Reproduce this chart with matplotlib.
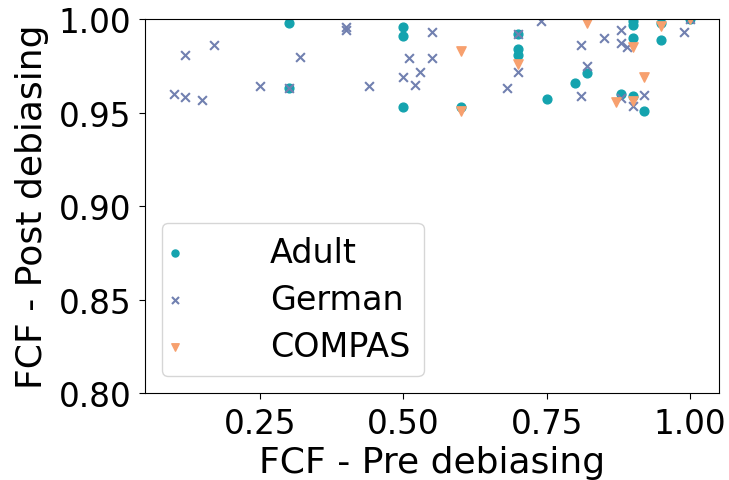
import matplotlib.pyplot as plt
import numpy as np

# FCF before / after debiasing, one pair per run
adult_pre = [0.30, 0.30, 0.50, 0.50, 0.50, 0.60, 0.70, 0.70, 0.70, 0.75, 0.80, 0.82,
             0.88, 0.90, 0.90, 0.90, 0.90, 0.92, 0.95, 0.95, 1.00]
adult_post = [0.998, 0.963, 0.996, 0.991, 0.953, 0.953, 0.992, 0.984, 0.981, 0.9575, 0.966, 0.971,
              0.960, 0.999, 0.997, 0.990, 0.959, 0.951, 0.998, 0.989, 1.000]

german_pre = [0.10, 0.12, 0.12, 0.15, 0.17, 0.25, 0.30, 0.32, 0.40, 0.40, 0.44, 0.50,
              0.51, 0.52, 0.53, 0.55, 0.55, 0.68, 0.70, 0.70, 0.74, 0.81, 0.81, 0.82,
              0.85, 0.88, 0.88, 0.89, 0.88, 0.90, 0.92, 0.99, 1.00]
german_post = [0.960, 0.981, 0.9586, 0.957, 0.986, 0.964, 0.963, 0.980, 0.996, 0.994, 0.964, 0.969,
               0.979, 0.9646, 0.972, 0.993, 0.979, 0.963, 0.992, 0.972, 0.999, 0.986, 0.959, 0.975,
               0.990, 0.994, 0.987, 0.985, 0.958, 0.9536, 0.9595, 0.993, 1.000]

compas_pre = [0.60, 0.60, 0.70, 0.82, 0.87, 0.90, 0.90, 0.92, 0.95, 1.00]
compas_post = [0.983, 0.951, 0.976, 0.998, 0.9557, 0.985, 0.956, 0.969, 0.9965, 1.000]

plt.rcParams['font.family'] = 'DejaVu Sans'
fig = plt.figure(figsize=(7.29, 4.81), dpi=100)
ax = fig.add_axes([0.199, 0.181, 0.787, 0.777])

ax.scatter(adult_pre, adult_post, s=40, marker='o', color='#14a3ae', label='Adult')
ax.scatter(german_pre, german_post, s=40, marker='x', color='#7180b0', label='German')
ax.scatter(compas_pre, compas_post, s=45, marker='v', color='#f7a06e', label='COMPAS')

ax.set_xlim(0.05, 1.05)
ax.set_ylim(0.80, 1.00)
ax.set_xticks([0.25, 0.50, 0.75, 1.00])
ax.set_yticks([0.80, 0.85, 0.90, 0.95, 1.00])
ax.tick_params(labelsize=23.5, length=4.5, pad=5.5)
ax.set_xlabel('FCF - Pre debiasing', fontsize=26, labelpad=4)
ax.set_ylabel('FCF - Post debiasing', fontsize=26, labelpad=7)

ax.legend(loc='lower left', fontsize=24, labelspacing=0.42, handlelength=0,
          handletextpad=2.85, borderpad=0.4, borderaxespad=0.5, markerscale=0.8)

fig.savefig('out.png', dpi=100)
